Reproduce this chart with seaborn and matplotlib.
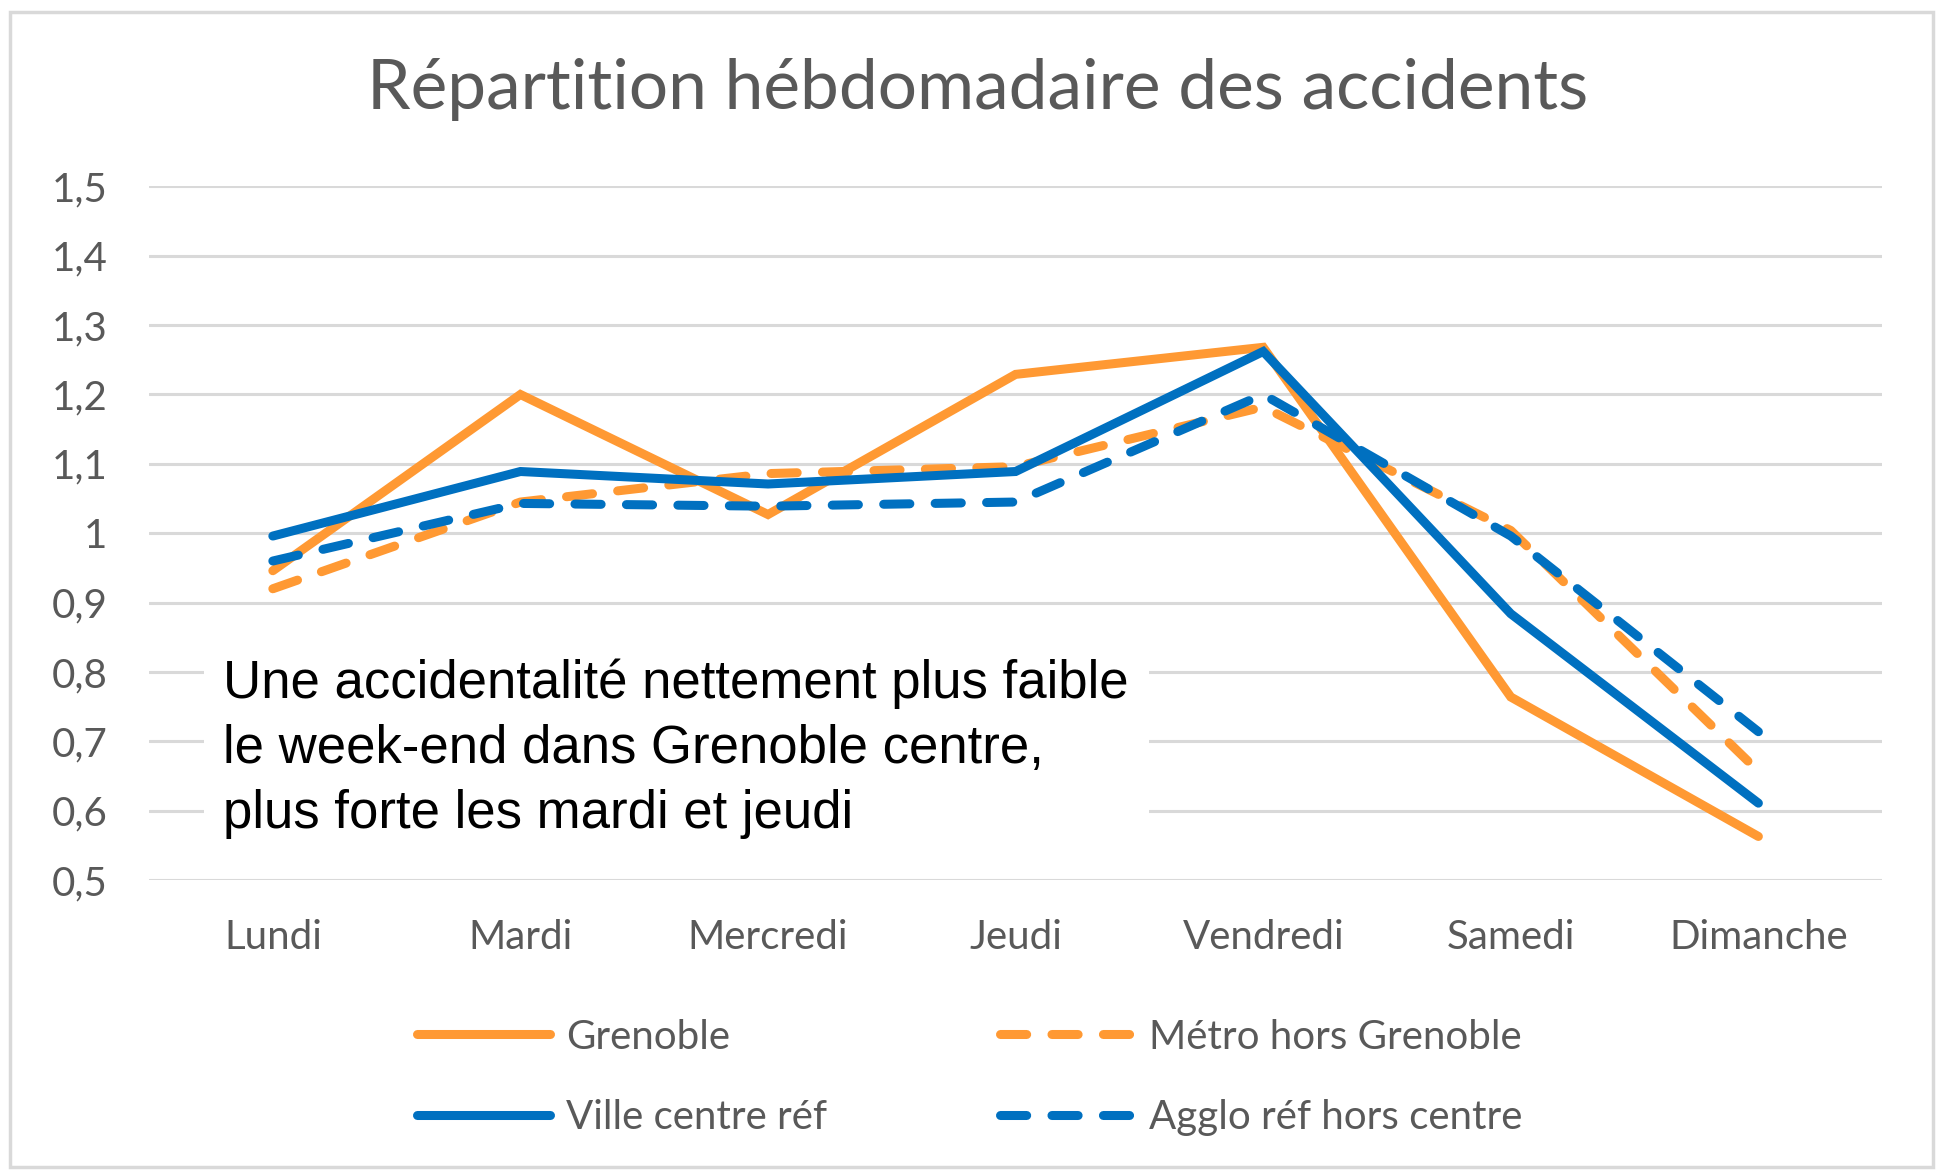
import matplotlib
matplotlib.use("Agg")
import matplotlib.pyplot as plt
from matplotlib.patches import Rectangle
import seaborn as sns
import pandas as pd

# Données (indice hebdomadaire, 1 = moyenne)
jours = ["Lundi", "Mardi", "Mercredi", "Jeudi", "Vendredi", "Samedi", "Dimanche"]
grenoble = [0.946, 1.200, 1.027, 1.229, 1.268, 0.764, 0.563]
metro_hors_grenoble = [0.920, 1.045, 1.086, 1.096, 1.182, 1.004, 0.657]
ville_centre_ref = [0.996, 1.089, 1.071, 1.089, 1.262, 0.884, 0.611]
agglo_ref_hors_centre = [0.960, 1.043, 1.039, 1.045, 1.200, 0.996, 0.714]
yticks = [0.5, 0.6, 0.7, 0.8, 0.9, 1.0, 1.1, 1.2, 1.3, 1.4, 1.5]
ytick_labels = ["0,5", "0,6", "0,7", "0,8", "0,9", "1", "1,1", "1,2", "1,3", "1,4", "1,5"]

series = {
    "Grenoble": grenoble,
    "Métro hors Grenoble": metro_hors_grenoble,
    "Ville centre réf": ville_centre_ref,
    "Agglo réf hors centre": agglo_ref_hors_centre,
}
rows = []
for nom, vals in series.items():
    for i, v in enumerate(vals):
        rows.append({"pos": i, "jour": jours[i], "serie": nom, "valeur": v})
df = pd.DataFrame(rows)

orange = "#FF9933"
bleu = "#0070C0"
palette = {"Grenoble": orange, "Métro hors Grenoble": orange,
           "Ville centre réf": bleu, "Agglo réf hors centre": bleu}
dashes = {"Grenoble": "", "Métro hors Grenoble": (2.9, 2.8),
          "Ville centre réf": "", "Agglo réf hors centre": (2.9, 2.8)}

sns.set_theme(style="white")
gris_txt = "#595959"
plt.rcParams["font.family"] = ["Lato", "DejaVu Sans"]

fig = plt.figure(figsize=(19.43, 11.72), dpi=100)
ax = fig.add_axes([0.0767, 0.249, 0.892, 0.592])

sns.lineplot(data=df, x="pos", y="valeur", hue="serie", style="serie",
             palette=palette, dashes=dashes, linewidth=6.5, ax=ax,
             legend=True)
for line in ax.get_lines():
    line.set_solid_capstyle("round")
    line.set_dash_capstyle("round")
    line.set_solid_joinstyle("miter")

ax.set_xlim(-0.5, 6.5)
ax.set_ylim(0.5, 1.5)
ax.set_xticks(range(len(jours)))
ax.set_xticklabels(jours)
ax.set_yticks(yticks)
ax.set_yticklabels(ytick_labels)
ax.set_xlabel("")
ax.set_ylabel("")
ax.grid(axis="y", color="#D9D9D9", linewidth=2.2)
ax.set_axisbelow(True)
for s in ax.spines.values():
    s.set_visible(False)
ax.tick_params(axis="y", length=0, pad=30, labelsize=29, labelcolor=gris_txt)
ax.tick_params(axis="x", length=0, pad=28, labelsize=29, labelcolor=gris_txt)

# légende en deux colonnes sous le graphique
handles, labels = ax.get_legend_handles_labels()
hmap = dict(zip(labels, handles))
ordre = ["Grenoble", "Ville centre réf", "Métro hors Grenoble", "Agglo réf hors centre"]
ax.legend([hmap[k] for k in ordre], ordre, ncol=2, frameon=False,
          loc="center", bbox_to_anchor=(0.499, 0.081), bbox_transform=fig.transFigure,
          fontsize=29, labelcolor=gris_txt, handlelength=3.3, handletextpad=0.4,
          columnspacing=4.3, labelspacing=1.07)

fig.suptitle("Répartition hébdomadaire des accidents", x=0.503, y=0.924,
             va="center", fontsize=50, color=gris_txt)

# commentaire sur fond blanc
fig.text(0.115, 0.361, "Une accidentalité nettement plus faible\n"
         "le week-end dans Grenoble centre,\nplus forte les mardi et jeudi",
         fontsize=38, color="black", family=["Liberation Sans", "DejaVu Sans"],
         ha="left", va="center", linespacing=1.38,
         bbox=dict(facecolor="white", edgecolor="none", pad=14))

# cadre du graphique
fig.patches.append(Rectangle((0.005, 0.004), 0.99, 0.986, transform=fig.transFigure,
                             fill=False, edgecolor="#D9D9D9", linewidth=2.5))

fig.savefig("out.png", dpi=100)
